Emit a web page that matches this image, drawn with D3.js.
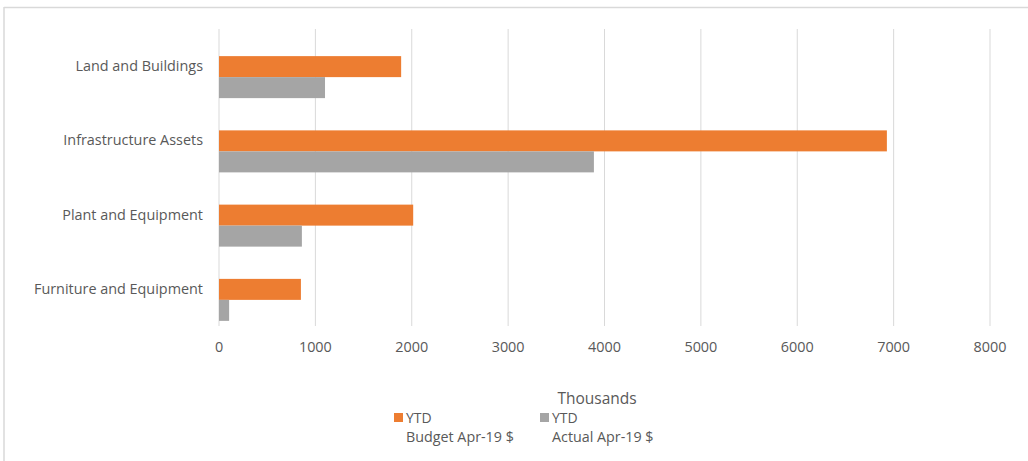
<!DOCTYPE html>
<html>
<head>
<meta charset="utf-8">
<script src="https://cdn.jsdelivr.net/npm/d3@7"></script>
<style>
  body { margin: 0; background: #fff; }
  text { font-family: "Open Sans", "DejaVu Sans", sans-serif; fill: #595959; }
</style>
</head>
<body>
<svg id="chart" width="1028" height="461"></svg>
<script>
// categories, top to bottom
var categories = ["Land and Buildings", "Infrastructure Assets", "Plant and Equipment", "Furniture and Equipment"];
// values in thousands of $
var budgetVals = [1890, 6930, 2015, 850];
var actualVals = [1100, 3890, 860, 105];
var xTicks = [0, 1000, 2000, 3000, 4000, 5000, 6000, 7000, 8000];
var seriesNames = ["Budget", "Actual"];
var seriesColors = ["#ED7D31", "#A5A5A5"];
var legendLines = [["YTD", "Budget Apr-19 $"], ["YTD", "Actual Apr-19 $"]];

var svg = d3.select("#chart");

// outer frame (only top and left edges show in the picture)
svg.append("line").attr("x1", 4).attr("x2", 1028).attr("y1", 7.5).attr("y2", 7.5)
   .attr("stroke", "#d9d9d9").attr("stroke-width", 1.5);
svg.append("line").attr("x1", 4).attr("x2", 4).attr("y1", 7).attr("y2", 461)
   .attr("stroke", "#d9d9d9").attr("stroke-width", 1.5);

var plotTop = 29, plotBottom = 326;
var x = d3.scaleLinear().domain([0, 8000]).range([219, 990]);
var y = d3.scaleBand().domain(categories).range([plotTop, plotBottom]);
var barShift = 11; // bars sit a little lower than the label band
var inner = d3.scaleBand().domain(seriesNames).range([0, 42]);

// gridlines
svg.append("g").selectAll("line")
   .data(xTicks)
   .enter().append("line")
     .attr("x1", function(d) { return x(d); })
     .attr("x2", function(d) { return x(d); })
     .attr("y1", plotTop)
     .attr("y2", plotBottom)
     .attr("stroke", "#d9d9d9")
     .attr("stroke-width", 1);

// bars
var rows = [];
for (var i = 0; i < categories.length; i++) {
  rows.push({cat: categories[i], s: 0, v: budgetVals[i]});
  rows.push({cat: categories[i], s: 1, v: actualVals[i]});
}
svg.append("g").selectAll("rect")
   .data(rows)
   .enter().append("rect")
     .attr("x", x(0))
     .attr("y", function(d) { return y(d.cat) + y.bandwidth() / 2 - 21 + barShift + inner(seriesNames[d.s]); })
     .attr("width", function(d) { return x(d.v) - x(0); })
     .attr("height", inner.bandwidth())
     .attr("fill", function(d) { return seriesColors[d.s]; });

// category labels
svg.append("g").selectAll("text")
   .data(categories)
   .enter().append("text")
     .attr("x", 203)
     .attr("y", function(d) { return y(d) + y.bandwidth() / 2; })
     .attr("dy", "0.35em")
     .attr("text-anchor", "end")
     .style("font-size", "14.4px")
     .text(function(d) { return d; });

// x tick labels
svg.append("g").selectAll("text")
   .data(xTicks)
   .enter().append("text")
     .attr("x", function(d) { return x(d); })
     .attr("y", 347)
     .attr("dy", "0.35em")
     .attr("text-anchor", "middle")
     .style("font-size", "14.4px")
     .text(function(d) { return d; });

// axis title
svg.append("text")
   .attr("x", 597).attr("y", 399).attr("dy", "0.35em")
   .attr("text-anchor", "middle")
   .style("font-size", "15.5px")
   .text("Thousands");

// legend
var legendX = [394, 540];
var lg = svg.append("g").selectAll("g")
   .data(legendLines)
   .enter().append("g")
     .attr("transform", function(d, i) { return "translate(" + legendX[i] + ",0)"; });
lg.append("rect")
   .attr("x", 0).attr("y", 413).attr("width", 9).attr("height", 9)
   .attr("fill", function(d, i) { return seriesColors[i]; });
lg.append("text")
   .attr("x", 12).attr("y", 418).attr("dy", "0.35em")
   .style("font-size", "14px")
   .text(function(d) { return d[0]; });
lg.append("text")
   .attr("x", 12).attr("y", 437).attr("dy", "0.35em")
   .style("font-size", "14.3px")
   .text(function(d) { return d[1]; });
</script>
</body>
</html>
